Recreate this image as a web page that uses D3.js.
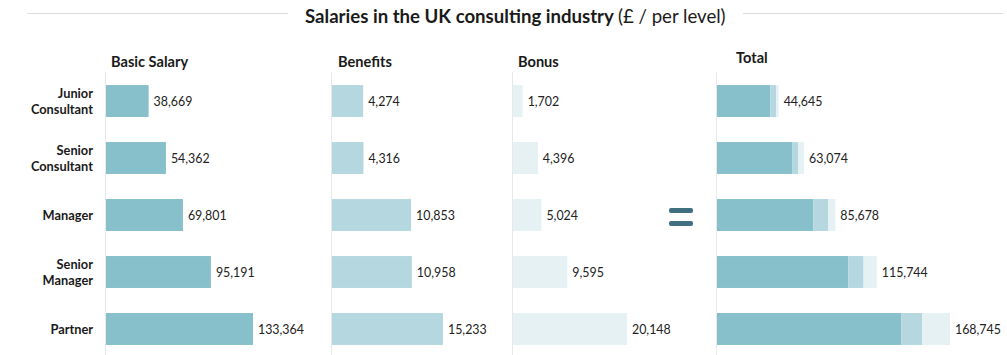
<!DOCTYPE html>
<html><head><meta charset="utf-8">
<script src="https://cdn.jsdelivr.net/npm/d3@7"></script>
<style>
html,body{margin:0;padding:0;background:#fff;}
svg{display:block;font-family:Lato,"Open Sans",sans-serif;}
</style></head><body>
<svg id="c" width="1007" height="355"></svg>
<script>
const levels = [["Junior","Consultant"],["Senior","Consultant"],["Manager"],["Senior","Manager"],["Partner"]];
const levelKeys = ["Junior Consultant","Senior Consultant","Manager","Senior Manager","Partner"];
const basicSalary = [38669, 54362, 69801, 95191, 133364];
const benefits = [4274, 4316, 10853, 10958, 15233];
const bonus = [1702, 4396, 5024, 9595, 20148];
const totals = [44645, 63074, 85678, 115744, 168745];
const panelTitles = ["Basic Salary","Benefits","Bonus","Total"];
const colors = ["#87bfca","#b5d8e0","#e6f1f3"];

const svg = d3.select("#c");
const fmt = d3.format(",");

const titleSize = (()=>{
  const t = svg.append("text").attr("font-size",20);
  t.append("tspan").attr("font-weight","bold").text("Salaries in the UK consulting industry ");
  t.append("tspan").text("(£ / per level)");
  const w = t.node().getComputedTextLength(); t.remove();
  return 20*421/w;
})();
const headSize = 14.6;
const rowSize = 12.8;
const valSize = 12.4;

// title
const title = svg.append("text").attr("x",305).attr("y",23)
  .attr("font-size",titleSize).attr("fill","#1a1a1a");
title.append("tspan").attr("font-weight","bold").text("Salaries in the UK consulting industry ");
title.append("tspan").attr("font-weight","normal").text("(£ / per level)");
svg.append("line").attr("x1",27).attr("x2",288).attr("y1",13.5).attr("y2",13.5).attr("stroke","#dcdcdc").attr("stroke-width",1.2);
svg.append("line").attr("x1",743).attr("x2",1003).attr("y1",13.5).attr("y2",13.5).attr("stroke","#dcdcdc").attr("stroke-width",1.2);

const y = d3.scaleBand().domain(levelKeys).range([72.5,357.5]).paddingInner(0.44).paddingOuter(0.22);

// row labels
levelKeys.forEach((k,i)=>{
  const lines = levels[i];
  const cy = y(k)+y.bandwidth()/2;
  const t = svg.append("text").attr("text-anchor","end").attr("font-size",rowSize).attr("font-weight","bold").attr("fill","#1a1a1a");
  lines.forEach((ln,j)=>{
    t.append("tspan").attr("x",93).attr("y",cy + 5 + (j-(lines.length-1)/2)*16.5).text(ln);
  });
});

const panels = [
  {x0:106, w:147, data:basicSalary, color:colors[0], title:panelTitles[0], ty:67, tx:111},
  {x0:332, w:111, data:benefits, color:colors[1], title:panelTitles[1], ty:67, tx:338},
  {x0:513, w:114, data:bonus, color:colors[2], title:panelTitles[2], ty:67, tx:518},
];
panels.forEach(p=>{
  const x = d3.scaleLinear().domain([0,d3.max(p.data)]).range([p.x0,p.x0+p.w]);
  svg.append("line").attr("x1",p.x0-0.5).attr("x2",p.x0-0.5).attr("y1",72).attr("y2",355).attr("stroke","#e8e8e8");
  svg.append("text").attr("x",p.tx).attr("y",p.ty).attr("font-size",headSize).attr("font-weight","bold").attr("fill","#1a1a1a").text(p.title);
  svg.selectAll(null).data(p.data).join("rect")
    .attr("x",x(0)).attr("y",(d,i)=>y(levelKeys[i])).attr("height",y.bandwidth())
    .attr("width",d=>x(d)-x(0)).attr("fill",p.color);
  svg.selectAll(null).data(p.data).join("text")
    .attr("x",d=>x(d)+5).attr("y",(d,i)=>y(levelKeys[i])+y.bandwidth()/2+5)
    .attr("font-size",valSize).attr("fill","#222").text(d=>fmt(d));
});

// total panel stacked
const tx0 = 717;
const xt = d3.scaleLinear().domain([0,d3.max(totals)]).range([tx0,tx0+233]);
svg.append("line").attr("x1",tx0-0.5).attr("x2",tx0-0.5).attr("y1",72).attr("y2",355).attr("stroke","#e8e8e8");
svg.append("text").attr("x",736).attr("y",63).attr("font-size",headSize).attr("font-weight","bold").attr("fill","#1a1a1a").text(panelTitles[3]);
const rows = levelKeys.map((k,i)=>({key:k, basic:basicSalary[i], benefits:benefits[i], bonus:bonus[i]}));
const stack = d3.stack().keys(["basic","benefits","bonus"])(rows);
stack.forEach((s,si)=>{
  svg.selectAll(null).data(s).join("rect")
    .attr("x",d=>xt(d[0])).attr("width",d=>xt(d[1])-xt(d[0]))
    .attr("y",d=>y(d.data.key)).attr("height",y.bandwidth()).attr("fill",colors[si]);
});
svg.selectAll(null).data(totals).join("text")
  .attr("x",d=>xt(d)+5).attr("y",(d,i)=>y(levelKeys[i])+y.bandwidth()/2+5)
  .attr("font-size",valSize).attr("fill","#222").text(d=>fmt(d));

// equals sign
const eqY = y("Manager")+y.bandwidth()/2;
svg.append("rect").attr("x",669).attr("y",eqY-7).attr("width",24).attr("height",5).attr("rx",2).attr("fill","#3f6f80");
svg.append("rect").attr("x",669).attr("y",eqY+6).attr("width",24).attr("height",5).attr("rx",2).attr("fill","#3f6f80");
</script>
</body></html>
